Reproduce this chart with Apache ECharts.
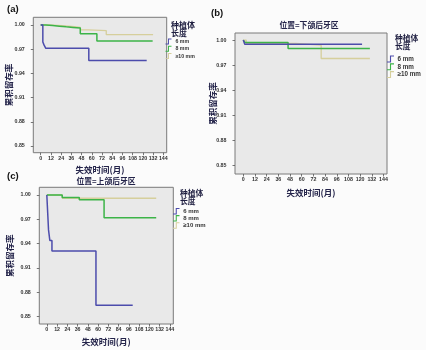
<!DOCTYPE html>
<html>
<head>
<meta charset="utf-8">
<script src="https://cdn.jsdelivr.net/npm/echarts@6/dist/echarts.min.js"></script>
<style>
html,body{margin:0;padding:0;background:#fbfbfb;}
#c{width:426px;height:350px;}
</style>
</head>
<body>
<div id="c"></div>
<script>
// ---- data ----
const xTicks = [0, 12, 24, 36, 48, 60, 72, 84, 96, 108, 120, 132, 144];
const yTicks = [0.85, 0.88, 0.91, 0.94, 0.97, 1.00];
const groups = ['6 mm', '8 mm', '≥10 mm'];
const panelLetters = ['(a)', '(b)', '(c)'];
const panelTitles = ['', '位置=下颌后牙区', '位置=上颌后牙区'];
const xName = '失效时间(月)';
const yName = '累积留存率';
const legendTitle = '种植体\n长度';

// panel (a)
const a6Time  = [0, 2.5, 4, 6, 56.5, 124.5];
const a6Surv  = [1.00, 0.979, 0.975, 0.971, 0.956, 0.956];
const a8Time  = [0, 6, 14, 22, 30, 38, 46.5, 66, 131.5];
const a8Surv  = [1.00, 0.9993, 0.9985, 0.9977, 0.997, 0.9962, 0.989, 0.980, 0.980];
const a10Time = [0, 10, 25, 40, 46.5, 56, 77, 132];
const a10Surv = [1.00, 0.999, 0.998, 0.997, 0.994, 0.993, 0.988, 0.988];
// panel (b)
const b6Time  = [0, 1.5, 122];
const b6Surv  = [1.00, 0.995, 0.995];
const b8Time  = [0, 2, 46, 130];
const b8Surv  = [1.00, 0.997, 0.990, 0.990];
const b10Time = [0, 3, 54, 80, 130];
const b10Surv = [1.00, 0.996, 0.994, 0.978, 0.978];
// panel (c)
const c6Time  = [0, 2, 3.5, 6, 57.5, 100.5];
const c6Surv  = [1.00, 0.957, 0.944, 0.931, 0.864, 0.864];
const c8Time  = [0, 18, 38, 67, 128];
const c8Surv  = [1.00, 0.997, 0.994, 0.972, 0.972];
const c10Time = [0, 18, 128];
const c10Surv = [1.00, 0.996, 0.996];

// ---- build ----
const zip = (t, s) => t.map((v, i) => [v, s[i]]);
const panelData = [
  [zip(a6Time, a6Surv), zip(a8Time, a8Surv), zip(a10Time, a10Surv)],
  [zip(b6Time, b6Surv), zip(b8Time, b8Surv), zip(b10Time, b10Surv)],
  [zip(c6Time, c6Surv), zip(c8Time, c8Surv), zip(c10Time, c10Surv)]
];
const colors = ['#4c4cac', '#3cb448', '#d6cf9c'];

const grids = [
  {left: 33.3, top: 17.3, width: 133.4, height: 135.4},
  {left: 235, top: 33, width: 152, height: 141},
  {left: 39.3, top: 187.3, width: 134, height: 136.7}
];
const xRanges = [[-8.7, 148], [-8.5, 147.6], [-8.8, 148]];
const yRanges = [[0.8417, 1.0095], [0.840, 1.0085], [0.841, 1.0095]];
const xNameGaps = [13, 14.5, 13.5];
const yNameGaps = [20, 18, 25];
const legendPos = [
  {left: 165.5, top: 38.5, fs: 5.2, ih: 6, gap: 1.3, tl: 171, tt: 20.5, tfs: 8},
  {left: 387, top: 55.5, fs: 6.3, ih: 7, gap: 0.8, tl: 395, tt: 33.8, tfs: 7.8},
  {left: 173, top: 208, fs: 6, ih: 6.5, gap: 0.6, tl: 180, tt: 188.8, tfs: 7.8}
];
const letterPos = [{left: 7, top: 4.5}, {left: 211, top: 8}, {left: 7, top: 171.5}];
const titlePos = [null, {x: 309, y: 21}, {x: 106, y: 177.5}];

const cjk = '"Noto Sans CJK SC", sans-serif';
const num = '"Liberation Sans", Arial, sans-serif';
const stepIcon = 'path://M0,10 L0,8.4 L4.2,8.4 L4.2,0 L10,0 L10,1.6 L5.8,1.6 L5.8,10 Z';

const option = {
  backgroundColor: '#fbfbfb',
  animation: false,
  title: [],
  grid: [],
  xAxis: [],
  yAxis: [],
  legend: [],
  series: []
};

for (let p = 0; p < 3; p++) {
  const g = grids[p];
  option.grid.push({
    left: g.left, top: g.top, width: g.width, height: g.height,
    containLabel: false, outerBoundsMode: 'none',
    show: true, backgroundColor: '#e9e9e9', borderColor: '#7a7a7a', borderWidth: 1
  });
  option.xAxis.push({
    type: 'value', gridIndex: p, min: xRanges[p][0], max: xRanges[p][1],
    name: xName, nameLocation: 'middle', nameGap: xNameGaps[p], nameMoveOverlap: false,
    nameTextStyle: {fontFamily: cjk, fontSize: 8.5, fontWeight: 'bold', color: '#24244a'},
    axisLine: {show: false, onZero: false},
    axisTick: {show: true, inside: false, length: 2.5, customValues: xTicks, lineStyle: {color: '#555', width: 0.8}},
    axisLabel: {customValues: xTicks, fontSize: 5.3, fontWeight: 'bold', color: '#333', fontFamily: num, margin: 3.5,
      formatter: v => String(Math.round(v))},
    splitLine: {show: false}
  });
  option.yAxis.push({
    type: 'value', gridIndex: p, min: yRanges[p][0], max: yRanges[p][1],
    name: yName, nameLocation: 'middle', nameGap: yNameGaps[p], nameRotate: 90, nameMoveOverlap: false,
    nameTextStyle: {fontFamily: cjk, fontSize: 8.5, fontWeight: 'bold', color: '#24244a'},
    axisLine: {show: false, onZero: false},
    axisTick: {show: true, inside: false, length: 2.5, customValues: yTicks, lineStyle: {color: '#555', width: 0.8}},
    axisLabel: {customValues: yTicks, fontSize: 5.3, fontWeight: 'bold', color: '#333', fontFamily: num, margin: 8.5,
      formatter: v => v.toFixed(2)},
    splitLine: {show: false}
  });
  for (let k = 0; k < 3; k++) {
    option.series.push({
      type: 'line', name: groups[k], xAxisIndex: p, yAxisIndex: p,
      step: 'end', showSymbol: false, symbol: 'none',
      color: colors[k],
      lineStyle: {color: colors[k], width: k === 2 ? 1.3 : 1.5},
      data: panelData[p][k], z: 3 - k
    });
  }
  const L = legendPos[p];
  option.legend.push({
    data: groups, orient: 'vertical', left: L.left, top: L.top, padding: 0,
    itemWidth: 8, itemHeight: L.ih, itemGap: L.gap, icon: stepIcon, selectedMode: false,
    textStyle: {fontSize: L.fs, fontWeight: 'bold', color: '#333', fontFamily: num, padding: [0, 0, 0, -2]}
  });
  option.title.push({
    text: legendTitle, left: L.tl, top: L.tt, padding: 0,
    textStyle: {fontFamily: cjk, fontSize: L.tfs, fontWeight: 'bold', color: '#1e1e40', lineHeight: L.tfs + 0.6}
  });
  option.title.push({
    text: panelLetters[p], left: letterPos[p].left, top: letterPos[p].top, padding: 0,
    textStyle: {fontFamily: num, fontSize: 9.5, fontWeight: 'bold', color: '#111'}
  });
  if (titlePos[p]) {
    option.title.push({
      text: panelTitles[p], left: titlePos[p].x, top: titlePos[p].y, textAlign: 'center', padding: 0,
      textStyle: {fontFamily: cjk, fontSize: 7.8, fontWeight: 'bold', color: '#24244a'}
    });
  }
}

const chart = echarts.init(document.getElementById('c'), null, {renderer: 'canvas'});
chart.setOption(option);
</script>
</body>
</html>
